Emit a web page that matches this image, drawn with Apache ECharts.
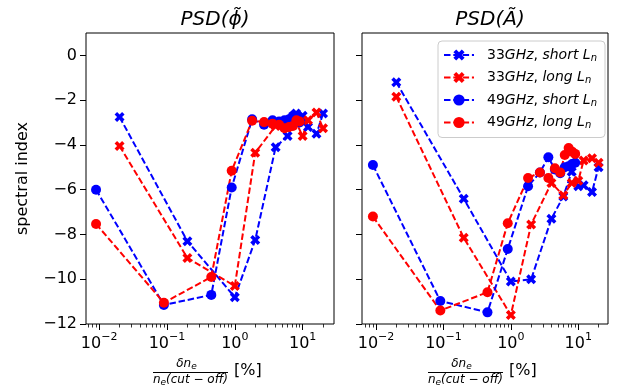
<!DOCTYPE html>
<html>
<head>
<meta charset="utf-8">
<script src="https://cdn.jsdelivr.net/npm/echarts@6/dist/echarts.min.js"></script>
<style>
  html, body { margin: 0; padding: 0; background: #fff; }
  #chart { width: 628px; height: 390px; }
</style>
</head>
<body>
<div id="chart"></div>
<script>
// Frequency scan positions (δn_e / n_e(cut-off), in %)
const x33 = [0.02, 0.2, 1, 2, 4, 6, 8, 10, 12, 16, 20];
const x49 = [0.009, 0.09, 0.45, 0.9, 1.8, 2.7, 3.6, 4.5, 5.4, 6.3, 7.2, 8.1, 9.0];

// Spectral index of PSD(phi~)
const phi33Short = [-2.75, -8.3, -10.8, -8.25, -4.1, -3.6, -2.6, -2.7, -3.2, -3.5, -2.6];
const phi33Long  = [-4.05, -9.05, -10.3, -4.35, -3.15, -3.2, -3.0, -3.6, -2.9, -2.55, -3.25];
const phi49Short = [-6.0, -11.15, -10.7, -5.9, -2.85, -3.1, -2.9, -2.95, -2.9, -2.85, -2.7, -2.8, -3.0];
const phi49Long  = [-7.53, -11.05, -9.9, -5.15, -2.92, -2.98, -3.05, -3.1, -3.25, -3.2, -3.15, -2.9, -2.95];

// Spectral index of PSD(A~)
const a33Short = [-1.2, -6.4, -10.1, -10.0, -7.3, -6.3, -5.2, -5.85, -5.8, -6.1, -5.0];
const a33Long  = [-1.85, -8.15, -11.6, -7.55, -5.7, -6.25, -5.7, -5.6, -4.7, -4.6, -4.8];
const a49Short = [-4.9, -10.97, -11.48, -8.65, -5.85, -5.23, -4.55, -5.1, -5.26, -5.0, -4.95, -4.85, -4.8];
const a49Long  = [-7.2, -11.4, -10.58, -7.5, -5.48, -5.23, -5.48, -5.04, -5.23, -4.45, -4.14, -4.3, -4.4];

const seriesNames = ['33GHz, short Ln', '33GHz, long Ln', '49GHz, short Ln', '49GHz, long Ln'];
const legendRich = {
  '33GHz, short Ln': '{f|33}{i|GHz}{u|, }{i|short }{i|L}{s|n}',
  '33GHz, long Ln':  '{f|33}{i|GHz}{u|, }{i|long }{i|L}{s|n}',
  '49GHz, short Ln': '{f|49}{i|GHz}{u|, }{i|short }{i|L}{s|n}',
  '49GHz, long Ln':  '{f|49}{i|GHz}{u|, }{i|long }{i|L}{s|n}'
};

const yTicks = [-12, -10, -8, -6, -4, -2, 0];
const xTicks = [0.01, 0.1, 1, 10];

const FONT = 'DejaVu Sans';
const BLUE = '#0000ff', RED = '#ff0000';
const X_MARK = 'path://M0,2.5L2.5,0L5,2.5L7.5,0L10,2.5L7.5,5L10,7.5L7.5,10L5,7.5L2.5,10L0,7.5L2.5,5Z';

// minor ticks of the log axis: 2..9 x 10^k
const minorTicks = [];
for (let k = -3; k <= 1; k++) {
  for (let m = 2; m <= 9; m++) minorTicks.push(+(m * Math.pow(10, k)).toPrecision(3));
}

function pairs(xs, ys) { return xs.map((x, i) => [x, ys[i]]); }
const minus = v => (v < 0 ? '\u2212' + (-v) : '' + v);

const grids = [
  { left: 86, top: 33, width: 248, height: 291 },
  { left: 362, top: 33, width: 246, height: 291 }
];
const xRange = [[0.0064, 29], [0.0062, 27.6]];

const xAxes = [];
[0, 1].forEach(g => {
  xAxes.push({
    type: 'log', logBase: 10, gridIndex: g, min: xRange[g][0], max: xRange[g][1],
    position: 'bottom',
    axisLine: { show: false, onZero: false },
    splitLine: { show: false },
    axisTick: { show: true, length: 6, inside: false, customValues: xTicks, lineStyle: { color: '#000', width: 1 } },
    axisLabel: {
      show: true, customValues: xTicks, margin: 8, color: '#000',
      formatter: v => {
        const e = Math.round(Math.log10(v));
        return '{b|10}{s|' + minus(e) + '}';
      },
      rich: {
        b: { fontFamily: FONT, fontSize: 16, color: '#000', lineHeight: 20, verticalAlign: 'bottom' },
        s: { fontFamily: FONT, fontSize: 11, color: '#000', lineHeight: 20, verticalAlign: 'top' }
      }
    }
  });
});
[0, 1].forEach(g => {
  xAxes.push({
    type: 'log', logBase: 10, gridIndex: g, min: xRange[g][0], max: xRange[g][1],
    position: 'bottom',
    axisLine: { show: false, onZero: false },
    splitLine: { show: false },
    axisTick: { show: true, length: 3.5, customValues: minorTicks, lineStyle: { color: '#000', width: 0.8 } },
    axisLabel: { show: false }
  });
});

const yAxes = [0, 1].map(g => ({
  type: 'value', gridIndex: g, min: -12, max: 1,
  name: g === 0 ? 'spectral index' : '',
  nameLocation: 'middle', nameGap: 55,
  nameTextStyle: { fontFamily: FONT, fontSize: 16, color: '#000' },
  axisLine: { show: false, onZero: false },
  splitLine: { show: false },
  axisTick: { show: true, length: 6, customValues: yTicks, lineStyle: { color: '#000', width: 1 } },
  axisLabel: {
    show: g === 0, customValues: yTicks, margin: 9,
    fontFamily: FONT, fontSize: 16, color: '#000',
    formatter: v => minus(v)
  }
}));

function lineSeries(name, color, symbol, g, xs, ys) {
  return {
    name, type: 'line', xAxisIndex: g, yAxisIndex: g,
    data: pairs(xs, ys),
    symbol, symbolSize: 10,
    showAllSymbol: true,
    itemStyle: { color },
    lineStyle: { color, width: 2, type: [6.5, 2.8] },
    emphasis: { disabled: true },
    animation: false
  };
}

const series = [
  lineSeries(seriesNames[0], BLUE, X_MARK, 0, x33, phi33Short),
  lineSeries(seriesNames[1], RED, X_MARK, 0, x33, phi33Long),
  lineSeries(seriesNames[2], BLUE, 'circle', 0, x49, phi49Short),
  lineSeries(seriesNames[3], RED, 'circle', 0, x49, phi49Long),
  lineSeries(seriesNames[0], BLUE, X_MARK, 1, x33, a33Short),
  lineSeries(seriesNames[1], RED, X_MARK, 1, x33, a33Long),
  lineSeries(seriesNames[2], BLUE, 'circle', 1, x49, a49Short),
  lineSeries(seriesNames[3], RED, 'circle', 1, x49, a49Long)
];

// axis title: δn_e / n_e(cut − off) [%] drawn as a stacked fraction
function fractionLabel(cx) {
  const half = 37.5;
  const ital = { fontFamily: FONT, fontStyle: 'italic', fontSize: 12, fill: '#000' };
  return [
    {
      type: 'text', x: cx - 4, y: 364, silent: true,
      style: {
        text: '{a|δn}{b|e}', align: 'center', verticalAlign: 'middle',
        rich: {
          a: Object.assign({}, ital, { lineHeight: 14, verticalAlign: 'middle' }),
          b: Object.assign({}, ital, { fontSize: 9, lineHeight: 14, verticalAlign: 'bottom' })
        }
      }
    },
    {
      type: 'line', silent: true,
      shape: { x1: cx - half, y1: 372.5, x2: cx + half, y2: 372.5 },
      style: { stroke: '#000', lineWidth: 1 }
    },
    {
      type: 'text', x: cx, y: 380, silent: true,
      style: {
        text: '{a|n}{b|e}{a|(cut \u2212 off)}', align: 'center', verticalAlign: 'middle',
        rich: {
          a: Object.assign({}, ital, { lineHeight: 14, verticalAlign: 'middle' }),
          b: Object.assign({}, ital, { fontSize: 9, lineHeight: 14, verticalAlign: 'bottom' })
        }
      }
    },
    {
      type: 'text', x: cx + half + 6, y: 371, silent: true,
      style: { text: '[%]', fontFamily: FONT, fontSize: 16, fill: '#000', align: 'left', verticalAlign: 'middle' }
    }
  ];
}

const option = {
  backgroundColor: '#fff',
  animation: false,
  title: [
    { text: 'PSD(\u03D5\u0303)', left: 210, top: 5, textAlign: 'center',
      textStyle: { fontFamily: FONT, fontStyle: 'italic', fontWeight: 'normal', fontSize: 20, color: '#000' } },
    { text: 'PSD(\u00C3)', left: 485, top: 5, textAlign: 'center',
      textStyle: { fontFamily: FONT, fontStyle: 'italic', fontWeight: 'normal', fontSize: 20, color: '#000' } }
  ],
  grid: grids.map(g => Object.assign({ show: true, borderColor: '#000', borderWidth: 1, backgroundColor: 'transparent' }, g)),
  xAxis: xAxes,
  yAxis: yAxes,
  legend: {
    data: seriesNames,
    left: 438, top: 41,
    orient: 'vertical',
    itemWidth: 30, itemHeight: 14, itemGap: 7.5,
    padding: [7, 8, 7, 5],
    borderColor: '#cccccc', borderWidth: 1, borderRadius: 4,
    backgroundColor: 'rgba(255,255,255,0.8)',
    selectedMode: false,
    formatter: name => legendRich[name],
    textStyle: {
      rich: {
        f: { fontFamily: FONT, fontSize: 14, color: '#000', lineHeight: 16, padding: [0, 0, 0, 8] },
        u: { fontFamily: FONT, fontSize: 14, color: '#000', lineHeight: 16 },
        i: { fontFamily: FONT, fontStyle: 'italic', fontSize: 14, color: '#000', lineHeight: 16 },
        s: { fontFamily: FONT, fontStyle: 'italic', fontSize: 10, color: '#000', lineHeight: 16, verticalAlign: 'bottom' }
      }
    }
  },
  graphic: fractionLabel(190.5).concat(fractionLabel(465.5)),
  series
};

const chart = echarts.init(document.getElementById('chart'), null, { renderer: 'canvas' });
chart.setOption(option);
</script>
</body>
</html>
